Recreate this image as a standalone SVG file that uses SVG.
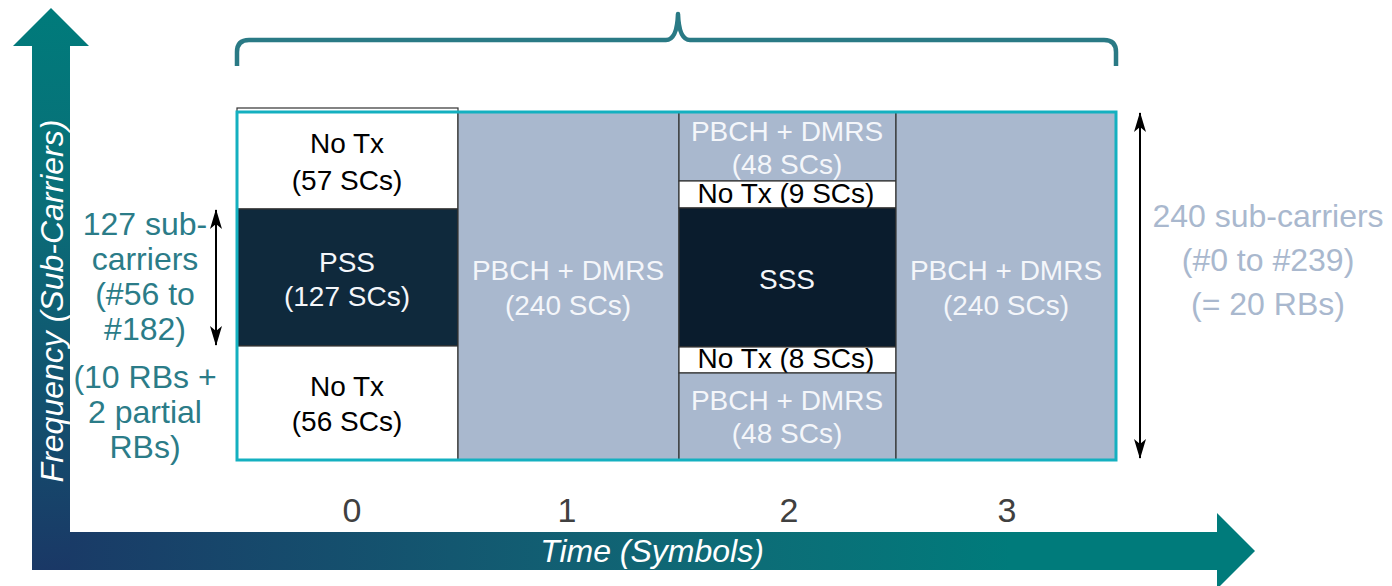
<svg xmlns="http://www.w3.org/2000/svg" width="1392" height="586" viewBox="0 0 1392 586">
  <defs>
    <linearGradient id="gradFreq" x1="0" y1="8" x2="0" y2="570" gradientUnits="userSpaceOnUse">
      <stop offset="0" stop-color="#007B7B"/>
      <stop offset="0.35" stop-color="#0A6E78"/>
      <stop offset="1" stop-color="#1A3866"/>
    </linearGradient>
    <linearGradient id="gradTime" x1="32" y1="0" x2="1255" y2="0" gradientUnits="userSpaceOnUse">
      <stop offset="0" stop-color="#1A3866"/>
      <stop offset="0.55" stop-color="#0F6A76"/>
      <stop offset="0.8" stop-color="#007B7B"/>
      <stop offset="1" stop-color="#007B7B"/>
    </linearGradient>
    <marker id="head" viewBox="0 0 20 12" refX="19" refY="6" markerWidth="20" markerHeight="12" markerUnits="userSpaceOnUse" orient="auto-start-reverse">
      <path d="M0,0 L20,6 L0,12 L5,6 z" fill="#000"/>
    </marker>
    <style>
      .cell { stroke: #333; stroke-width: 1.2; }
      .white { fill: #FFFFFF; }
      .pbch { fill: #A9B8CE; }
      .t { font-family: "Liberation Sans", Arial, sans-serif; text-anchor: middle; }
      .lbl { font-size: 28px; }
      .dark { fill: #000; }
      .light { fill: #F4F6FA; }
      .side { font-size: 32px; fill: #2B7C88; }
      .rside { font-size: 32px; fill: #A9B8CE; }
      .num { font-size: 34px; fill: #404040; }
      .axis { font-size: 32px; font-style: italic; fill: #FFFFFF; }
      .dim { stroke: #000; stroke-width: 2; fill: none; marker-start: url(#head); marker-end: url(#head); }
    </style>
  </defs>

  <!-- axes -->
  <g id="axis-frequency">
    <polygon points="32,570 32,46 13,46 51,8 89,46 70,46 70,570" fill="url(#gradFreq)"/>
    <text class="t axis" transform="translate(63,301) rotate(-90)">Frequency (Sub-Carriers)</text>
  </g>
  <g id="axis-time">
    <polygon points="70,532 1217,532 1217,513 1255,551 1217,589 1217,570 70,570" fill="url(#gradTime)"/>
    <text class="t axis" x="652" y="562">Time (Symbols)</text>
  </g>

  <!-- brace over the four symbols -->
  <g id="brace">
    <path d="M237,66 V52 Q237,40 249,40 H666 Q677,40 678,14 Q679,40 690,40 H1104 Q1116,40 1116,52 V66" fill="none" stroke="#2A7A85" stroke-width="4.5" stroke-linejoin="round" stroke-linecap="butt"/>
  </g>

  <!-- symbol 0 -->
  <g id="sym0-notx-top">
    <rect class="cell white" x="237" y="108" width="221" height="101"/>
    <text class="t lbl dark" x="347" y="153">No Tx</text>
    <text class="t lbl dark" x="347" y="190">(57 SCs)</text>
  </g>
  <g id="sym0-pss">
    <rect class="cell" x="237" y="209" width="221" height="137" fill="#0F293C"/>
    <text class="t lbl light" x="347" y="272">PSS</text>
    <text class="t lbl light" x="347" y="306">(127 SCs)</text>
  </g>
  <g id="sym0-notx-bottom">
    <rect class="cell white" x="237" y="346" width="221" height="114"/>
    <text class="t lbl dark" x="347" y="396">No Tx</text>
    <text class="t lbl dark" x="347" y="431">(56 SCs)</text>
  </g>

  <!-- symbol 1 -->
  <g id="sym1-pbch">
    <rect class="cell pbch" x="458" y="112" width="221" height="348"/>
    <text class="t lbl light" x="568" y="280">PBCH + DMRS</text>
    <text class="t lbl light" x="568" y="315">(240 SCs)</text>
  </g>

  <!-- symbol 2 -->
  <g id="sym2-pbch-top">
    <rect class="cell pbch" x="679" y="112" width="217" height="69"/>
    <text class="t lbl light" x="787" y="141">PBCH + DMRS</text>
    <text class="t lbl light" x="787" y="174">(48 SCs)</text>
  </g>
  <g id="sym2-notx-top">
    <rect class="cell white" x="679" y="181" width="217" height="27"/>
    <text class="t lbl dark" x="786" y="203">No Tx (9 SCs)</text>
  </g>
  <g id="sym2-sss">
    <rect class="cell" x="679" y="208" width="217" height="139" fill="#0A1C2D"/>
    <text class="t lbl light" x="787" y="289">SSS</text>
  </g>
  <g id="sym2-notx-bottom">
    <rect class="cell white" x="679" y="347" width="217" height="26"/>
    <text class="t lbl dark" x="786" y="368">No Tx (8 SCs)</text>
  </g>
  <g id="sym2-pbch-bottom">
    <rect class="cell pbch" x="679" y="373" width="217" height="87"/>
    <text class="t lbl light" x="787" y="410">PBCH + DMRS</text>
    <text class="t lbl light" x="787" y="443">(48 SCs)</text>
  </g>

  <!-- symbol 3 -->
  <g id="sym3-pbch">
    <rect class="cell pbch" x="896" y="112" width="220" height="348"/>
    <text class="t lbl light" x="1006" y="280">PBCH + DMRS</text>
    <text class="t lbl light" x="1006" y="315">(240 SCs)</text>
  </g>

  <!-- SS/PBCH block outline -->
  <rect id="block-outline" x="237" y="112" width="879" height="348" fill="none" stroke="#14B0C0" stroke-width="3"/>

  <!-- dimension arrows -->
  <g id="connectors">
    <line class="dim" x1="216" y1="210" x2="216" y2="345"/>
    <line class="dim" x1="1140" y1="113" x2="1140" y2="458"/>
  </g>

  <!-- side annotations -->
  <g id="pss-span-label">
    <text class="t side" x="145" y="235">127 sub-</text>
    <text class="t side" x="145" y="270">carriers</text>
    <text class="t side" x="145" y="305">(#56 to</text>
    <text class="t side" x="145" y="340">#182)</text>
    <text class="t side" x="145" y="388">(10 RBs +</text>
    <text class="t side" x="145" y="423">2 partial</text>
    <text class="t side" x="145" y="458">RBs)</text>
  </g>
  <g id="block-span-label">
    <text class="t rside" x="1268" y="227">240 sub-carriers</text>
    <text class="t rside" x="1268" y="271">(#0 to #239)</text>
    <text class="t rside" x="1268" y="315">(= 20 RBs)</text>
  </g>

  <!-- symbol indices -->
  <g id="symbol-indices">
    <text class="t num" x="352" y="522">0</text>
    <text class="t num" x="567" y="522">1</text>
    <text class="t num" x="789" y="522">2</text>
    <text class="t num" x="1007" y="522">3</text>
  </g>
</svg>
